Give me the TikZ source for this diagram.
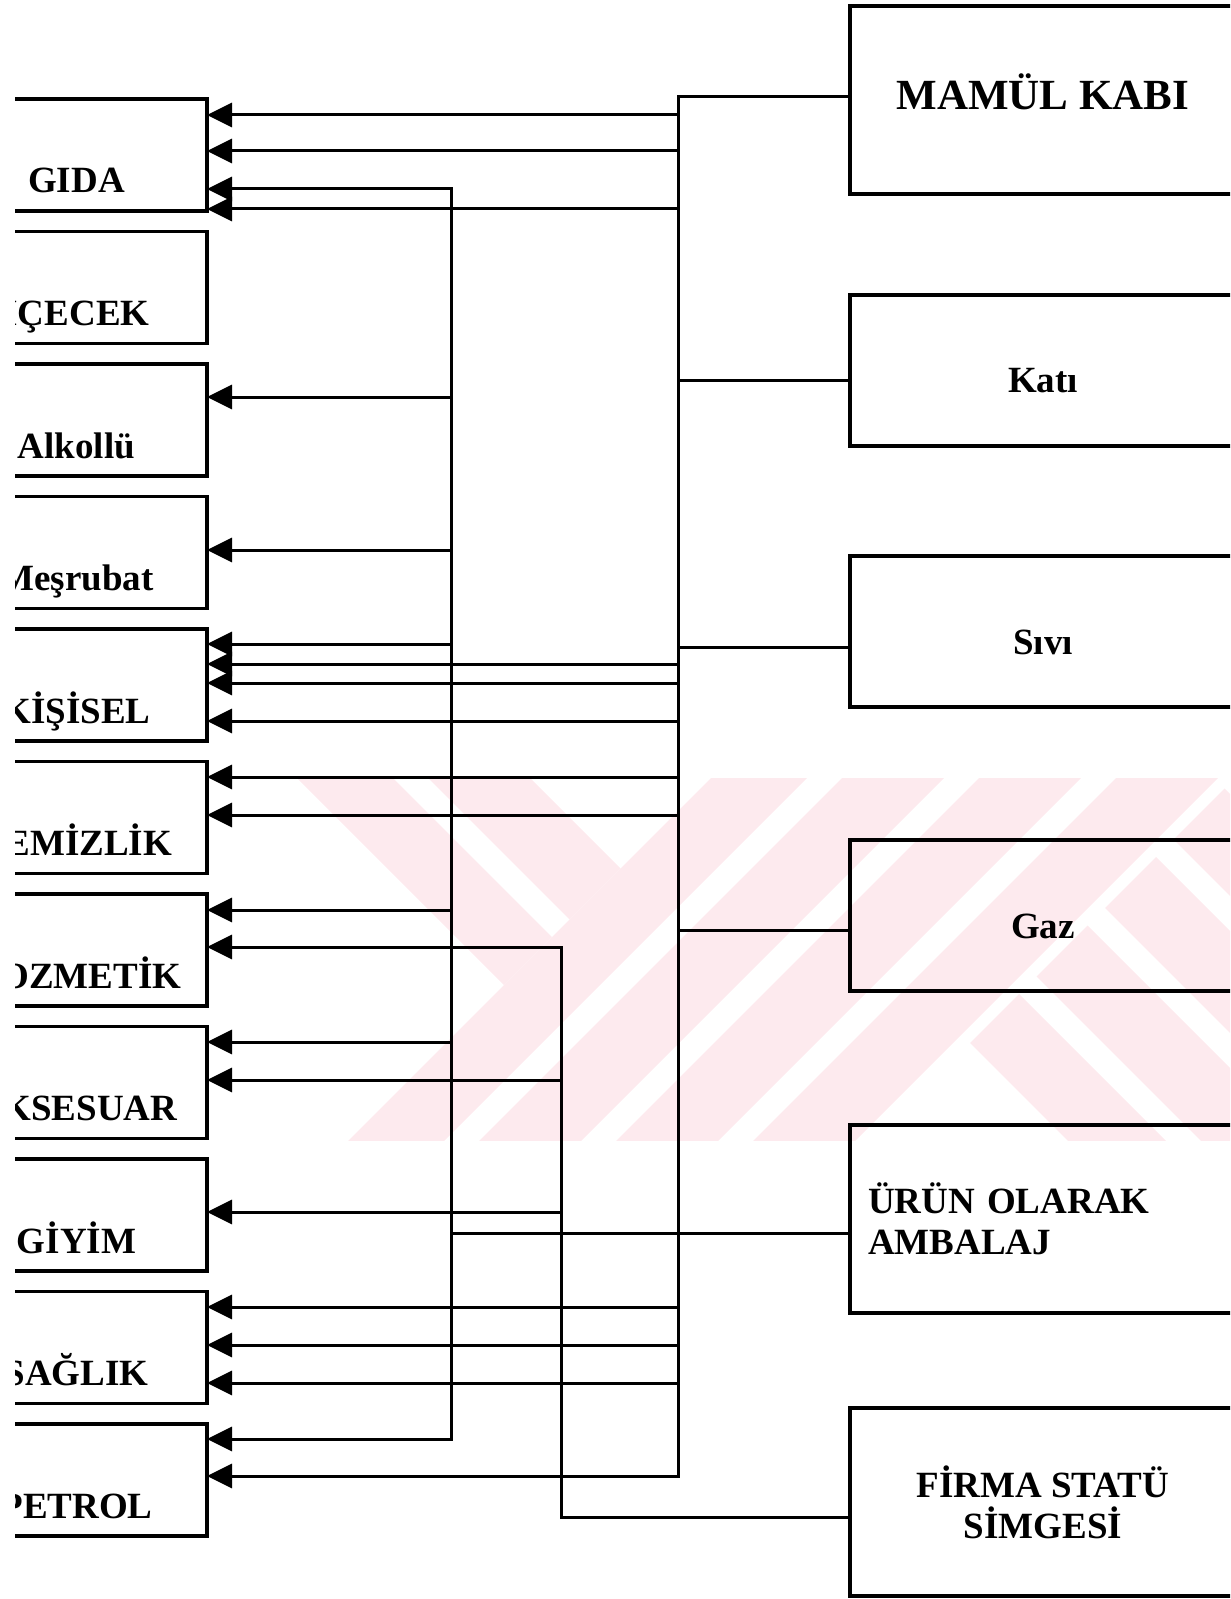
\documentclass[tikz,border=0pt]{standalone}
\usepackage{fontspec}
\setmainfont{Liberation Serif}
\usepackage{xcolor}
\usetikzlibrary{arrows.meta, positioning}
\definecolor{wmPink}{RGB}{253,234,238}
\newcommand{\lblfont}{\fontsize{18.5}{20.5}\selectfont\bfseries}

\begin{document}
\begin{tikzpicture}[
  x=0.5pt, y=-0.5pt,
  node distance=10.25pt and 0pt,
  >={Triangle[length=12.5pt, width=12pt]},
  lbox/.style={rectangle, draw, line width=1.7pt, outer sep=0pt, inner sep=0pt,
               minimum width=130.5pt, text height=47pt, text depth=9pt, font=\lblfont},
  rbox/.style={rectangle, draw, line width=1.7pt, outer sep=0pt, inner sep=0pt,
               minimum width=193pt, font=\lblfont},
  midbox/.style={rbox, text height=49pt, text depth=26.5pt},
  link/.style={line width=1.5pt},
  arr/.style={link, ->},
]
\useasboundingbox (0,0) rectangle (1230,1599);
\clip (15,0) rectangle (1230,1599);

% watermark
\begin{scope}
\clip (297,778) rectangle (1230,1140);
\fill[wmPink] (219,700) -- (315,700) -- (552,937) -- (504,985) -- cycle;
\fill[wmPink] (350,700) -- (452,700) -- (620.5,868.5) -- (569.5,919.5) -- cycle;
\fill[wmPink] (789,700) -- (885,700) -- (385,1200) -- (289,1200) -- cycle;
\fill[wmPink] (920,700) -- (1022,700) -- (522,1200) -- (420,1200) -- cycle;
\fill[wmPink] (1057,700) -- (1159,700) -- (659,1200) -- (557,1200) -- cycle;
\fill[wmPink] (1194,700) -- (1296,700) -- (796,1200) -- (694,1200) -- cycle;
\fill[wmPink] (970,1043) -- (1019,994) -- (1225,1200) -- (1127,1200) -- cycle;
\fill[wmPink] (1036.5,976.5) -- (1087.5,925.5) -- (1362,1200) -- (1260,1200) -- cycle;
\fill[wmPink] (1105,908) -- (1156,857) -- (1499,1200) -- (1397,1200) -- cycle;
\fill[wmPink] (1173.5,839.5) -- (1224.5,788.5) -- (1636,1200) -- (1534,1200) -- cycle;
\end{scope}

% sectors
\node[lbox] (gida) at (76.5,155) {GIDA};
\node[lbox, below=of gida] (icecek) {İÇECEK};
\node[lbox, below=of icecek] (alkollu) {Alkollü};
\node[lbox, below=of alkollu] (mesrubat) {Meşrubat};
\node[lbox, below=of mesrubat] (kisisel) {KİŞİSEL};
\node[lbox, below=of kisisel] (temizlik) {TEMİZLİK};
\node[lbox, below=of temizlik] (kozmetik) {KOZMETİK};
\node[lbox, below=of kozmetik] (aksesuar) {AKSESUAR};
\node[lbox, below=of aksesuar] (giyim) {GİYİM};
\node[lbox, below=of giyim] (saglik) {SAĞLIK};
\node[lbox, below=of saglik] (petrol) {PETROL};

% packaging types
\node[rbox, text height=52pt, text depth=42pt, font=\fontsize{21.5}{24}\selectfont\bfseries]
  (mamul) at (1043,100) {MAMÜL KABI};
\node[midbox, below=50.5pt of mamul] (kati) {Katı};
\node[midbox, below=55pt of kati] (sivi) {Sıvı};
\node[midbox, below=66.5pt of sivi] (gaz) {Gaz};
\node[rbox, minimum height=94pt, text width=175pt, inner xsep=9pt, align=left,
  below=67pt of gaz] (urun) {ÜRÜN OLARAK\\AMBALAJ};
\node[rbox, minimum height=94pt, align=center, below=47.5pt of urun] (firma) {FİRMA STATÜ\\SİMGESİ};

\coordinate (busA) at (451,0);
\coordinate (busC) at (561,0);
\coordinate (busB) at (678,0);

% bus B: mamul kabi, kati, sivi, gaz
\draw[arr] (mamul.west |- 0,97) -| (busB |- 0,1476) -- (petrol.east |- 0,1476);
\draw[link] (kati.west |- 0,380) -- (busB |- 0,380);
\draw[link] (sivi.west |- 0,647) -- (busB |- 0,647);
\draw[link] (gaz.west |- 0,930) -- (busB |- 0,930);
\draw[arr] (busB |- 0,115) -- (gida.east |- 0,115);
\draw[arr] (busB |- 0,151) -- (gida.east |- 0,151);
\draw[arr] (busB |- 0,209) -- (gida.east |- 0,209);
\draw[arr] (busB |- 0,664) -- (kisisel.east |- 0,664);
\draw[arr] (busB |- 0,683) -- (kisisel.east |- 0,683);
\draw[arr] (busB |- 0,721) -- (kisisel.east |- 0,721);
\draw[arr] (busB |- 0,777) -- (temizlik.east |- 0,777);
\draw[arr] (busB |- 0,815) -- (temizlik.east |- 0,815);
\draw[arr] (busB |- 0,1307) -- (saglik.east |- 0,1307);
\draw[arr] (busB |- 0,1345) -- (saglik.east |- 0,1345);
\draw[arr] (busB |- 0,1383) -- (saglik.east |- 0,1383);

% bus A: urun olarak ambalaj
\draw[link, <->] (gida.east |- 0,189) -| (busA |- 0,1439) -- (petrol.east |- 0,1439);
\draw[link] (urun.west |- 0,1233) -- (busA |- 0,1233);
\draw[arr] (busA |- 0,397) -- (alkollu.east |- 0,397);
\draw[arr] (busA |- 0,550) -- (mesrubat.east |- 0,550);
\draw[arr] (busA |- 0,644) -- (kisisel.east |- 0,644);
\draw[arr] (busA |- 0,910) -- (kozmetik.east |- 0,910);
\draw[arr] (busA |- 0,1042) -- (aksesuar.east |- 0,1042);

% bus C: firma statu simgesi
\draw[arr] (firma.west |- 0,1517) -| (busC |- 0,947) -- (kozmetik.east |- 0,947);
\draw[arr] (busC |- 0,1080) -- (aksesuar.east |- 0,1080);
\draw[arr] (busC |- 0,1212) -- (giyim.east |- 0,1212);

\end{tikzpicture}
\end{document}
